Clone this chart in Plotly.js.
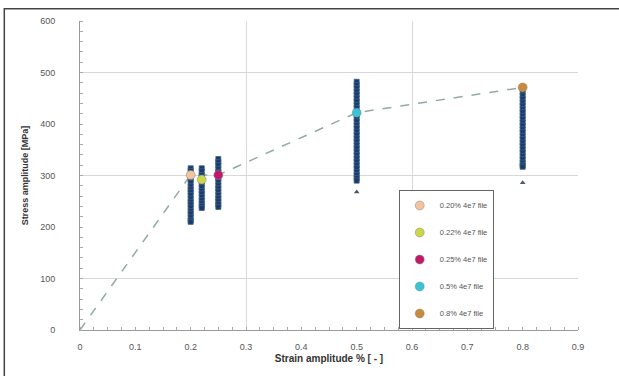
<!DOCTYPE html>
<html><head><meta charset="utf-8">
<script src="https://cdn.plot.ly/plotly-3.0.1.min.js"></script>
<style>html,body{margin:0;padding:0;background:#fff}#c{width:619px;height:376px}</style>
</head><body><div id="c"></div>
<script>
// ---- data ----
const strainLevels = [0.2, 0.22, 0.25, 0.5, 0.8];
const seriesNames = ["0.20% 4e7 file", "0.22% 4e7 file", "0.25% 4e7 file", "0.5% 4e7 file", "0.8% 4e7 file"];
const meanStress = [301, 292, 301, 422, 471];
const col020 = [314, 309, 303, 297, 292, 286, 279, 273, 268, 262, 255, 249, 244, 238, 231, 226, 219, 213, 210];
const col022 = [314, 308, 301, 296, 289, 283, 277, 270, 265, 258, 252, 246, 241, 237];
const col025 = [332, 326, 320, 313, 307, 300, 294, 288, 281, 275, 269, 262, 256, 250, 244, 239];
const col050 = [482, 476, 470, 463, 457, 450, 444, 437, 431, 424, 418, 411, 405, 398, 392, 385, 379, 372, 366, 359, 353, 346, 340, 333, 327, 320, 314, 307, 301, 295, 290];
const col080 = [468, 462, 455, 449, 442, 436, 429, 423, 416, 410, 403, 397, 390, 384, 377, 371, 364, 358, 351, 345, 338, 332, 325, 320, 317];
const outlierStrain = [0.5, 0.8];
const outlierStress = [268, 286];
const curveStrain = [0, 0.2, 0.25, 0.5, 0.8];
const curveStress = [0, 301, 301, 422, 471];
const highlightColors = ["#f3c39c", "#cbd64a", "#c2186a", "#38c4d6", "#c98a3c"];
const xTicks = [0, 0.1, 0.2, 0.3, 0.4, 0.5, 0.6, 0.7, 0.8, 0.9];
const yTicks = [0, 100, 200, 300, 400, 500, 600];
// ---- traces ----
const columns = [col020, col022, col025, col050, col080];
const traces = [];
traces.push({x: curveStrain, y: curveStress, mode: 'lines', showlegend: false,
  line: {color: '#93ab9d', width: 1.5, dash: 'dash'}, hoverinfo: 'skip'});
columns.forEach((col, i) => {
  traces.push({x: col.map(() => strainLevels[i]), y: col, mode: 'markers', showlegend: false,
    marker: {symbol: 'square', size: 5, color: '#1e3964', line: {color: '#35608f', width: 0.8}}});
});
traces.push({x: outlierStrain, y: outlierStress, mode: 'markers', showlegend: false,
  marker: {symbol: 'triangle-up', size: 5, color: '#4a5a70'}});
strainLevels.forEach((s, i) => {
  traces.push({x: [s], y: [meanStress[i]], mode: 'markers', name: seriesNames[i],
    legendgroup: 'g' + i,
    marker: {symbol: 'circle', size: 9, color: highlightColors[i], line: {color: '#888', width: 0.5}}});
});
// grid-only overlay axes
traces.push({x: [0], y: [0], xaxis: 'x2', yaxis: 'y2', mode: 'markers', showlegend: false,
  marker: {opacity: 0}, hoverinfo: 'skip'});
const layout = {
  width: 619, height: 376,
  margin: {l: 80, r: 41, t: 21, b: 46},
  paper_bgcolor: '#fff', plot_bgcolor: '#fff',
  showlegend: true,
  legend: {x: 0.64, y: 0.453, xanchor: 'left', yanchor: 'top', bgcolor: '#fff',
    bordercolor: '#666', borderwidth: 1, tracegroupgap: 8, itemwidth: 30,
    font: {family: 'Liberation Sans, Arial, sans-serif', size: 7.5, color: '#555'}},
  xaxis: {range: [0, 0.9], tickvals: xTicks, ticktext: xTicks.map(String), showgrid: false, zeroline: false,
    showline: true, linecolor: '#999', linewidth: 1, ticks: '', ticklabelstandoff: 8,
    minor: {dtick: 0.025, ticks: 'inside', ticklen: 3, tickcolor: '#aaa', showgrid: false},
    tickfont: {family: 'Liberation Sans, Arial, sans-serif', size: 9, color: '#555'},
    title: {text: '<b>Strain amplitude % [ - ]</b>', standoff: 4,
      font: {family: 'Liberation Sans, Arial, sans-serif', size: 10, color: '#333'}}},
  yaxis: {range: [0, 600], tickvals: yTicks, showgrid: false, zeroline: false,
    showline: true, linecolor: '#999', linewidth: 1, ticks: '', ticklabelstandoff: 22,
    minor: {dtick: 20, ticks: 'inside', ticklen: 3, tickcolor: '#aaa', showgrid: false},
    tickfont: {family: 'Liberation Sans, Arial, sans-serif', size: 9, color: '#555'},
    title: {text: '<b>Stress amplitude [MPa]</b>', standoff: 10,
      font: {family: 'Liberation Sans, Arial, sans-serif', size: 9, color: '#333'}}},
  xaxis2: {overlaying: 'x', range: [0, 0.9], tickvals: [0.3, 0.6, 0.9], showticklabels: false,
    showgrid: true, gridcolor: '#d8d8d8', zeroline: false, ticks: ''},
  yaxis2: {overlaying: 'y', range: [0, 600], tickvals: [100, 300, 500], showticklabels: false,
    showgrid: true, gridcolor: '#d8d8d8', zeroline: false, ticks: ''},
  shapes: [{type: 'rect', xref: 'paper', yref: 'paper', x0: -0.152, x1: 1.1, y0: -0.2, y1: 1.04,
    line: {color: '#444', width: 1.5}, fillcolor: 'rgba(0,0,0,0)'}]
};
Plotly.newPlot('c', traces, layout, {displayModeBar: false, staticPlot: true});
</script></body></html>
